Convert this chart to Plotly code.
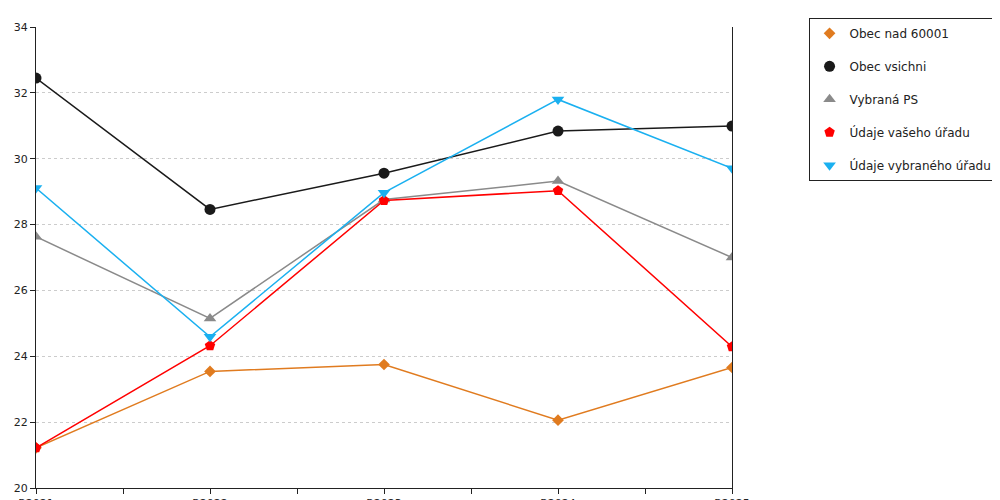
import plotly.graph_objects as go

years = ["R2021", "R2022", "R2023", "R2024", "R2025"]
obec_nad = [21.22, 23.54, 23.75, 22.06, 23.66]
obec_vsichni = [32.45, 28.46, 29.56, 30.84, 30.99]
vybrana_ps = [27.63, 25.15, 28.76, 29.32, 27.0]
vaseho = [21.22, 24.32, 28.73, 29.03, 24.29]
vybraneho = [29.11, 24.59, 28.97, 31.8, 29.71]

series = [
    ("Obec nad 60001", obec_nad, "#e07b1f", "diamond", 9),
    ("Obec vsichni", obec_vsichni, "#1a1a1a", "circle", 11),
    ("Vybraná PS", vybrana_ps, "#8a8a8a", "triangle-up", 11),
    ("Údaje vašeho úřadu", vaseho, "#ff0000", "pentagon", 11),
    ("Údaje vybraného úřadu", vybraneho, "#1ab0f0", "triangle-down", 11),
]

x = list(range(len(years)))
fig = go.Figure()
for name, vals, color, sym, size in series:
    fig.add_trace(go.Scatter(
        x=x, y=vals, name=name, mode="lines+markers", showlegend=False,
        legendgroup=name, line=dict(color=color, width=1.5),
        marker=dict(symbol=sym, size=size, color=color),
    ))
    # legend entry with marker only
    fig.add_trace(go.Scatter(
        x=[None], y=[None], name=name, mode="markers", legendgroup=name,
        marker=dict(symbol=sym, size=size, color=color),
    ))

fig.update_layout(
    width=1000, height=500,
    margin=dict(l=28, r=250, t=10, b=20),
    plot_bgcolor="white", paper_bgcolor="white",
    font=dict(family="DejaVu Sans", size=11, color="#222"),
    legend=dict(x=1.11, y=1.02, xanchor="left", yanchor="top",
                bordercolor="#222", borderwidth=1, font=dict(size=12),
                tracegroupgap=14, itemwidth=30),
    xaxis=dict(range=[0, 4], tickmode="array", tickvals=x, ticktext=years,
               automargin=False,
               showgrid=False, showline=True, linecolor="#222",
               ticks="outside", ticklen=5, tickcolor="#222", zeroline=False,
               minor=dict(tickmode="linear", dtick=0.5, ticks="outside",
                          ticklen=5, tickcolor="#222")),
    yaxis=dict(range=[20, 34], dtick=2, showgrid=True, gridcolor="#ccc",
               griddash="dot", showline=True, linecolor="#222", mirror=True,
               automargin=False,
               ticks="outside", ticklen=5, tickcolor="#222", zeroline=False),
)
fig.write_html("out.html")
